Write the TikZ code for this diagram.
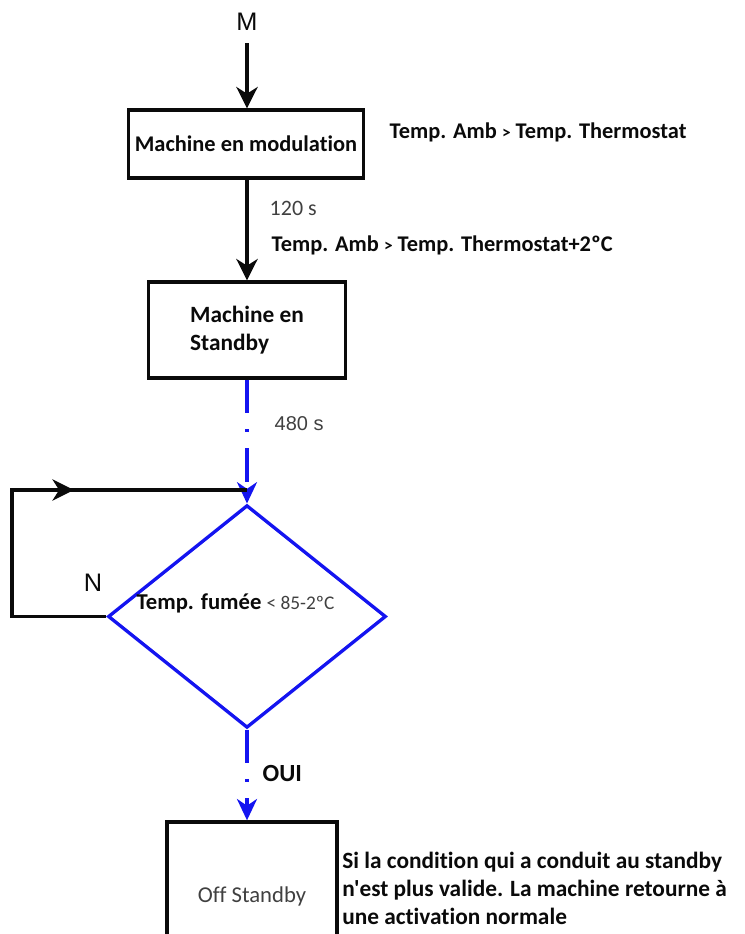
\documentclass[tikz,border=0pt]{standalone}
\usepackage{fontspec}
\setmainfont[Ligatures={NoCommon,TeXOff}]{Carlito}
\newfontfamily\arialfont{Liberation Sans}
\usetikzlibrary{positioning,shapes.geometric,arrows.meta,decorations.markings}
\definecolor{flowblue}{HTML}{1414F0}
\definecolor{greytext}{HTML}{404040}
\definecolor{ink}{HTML}{0A0A0A}

\begin{document}
\begin{tikzpicture}[x=0.75pt, y=-0.75pt,
    every node/.style={font=\fontsize{16.8}{21}\selectfont\bfseries, text=ink},
    statebox/.style={draw=ink, line width=2.5pt},
    flow/.style={draw=ink, line width=2.5pt, -{Stealth[length=16pt, width=16pt, inset=5pt]}},
    blueflow/.style={draw=flowblue, line width=2.5pt, dash pattern=on 25pt off 12pt on 2.5pt off 12pt, -{Stealth[length=16pt, width=15pt, inset=5pt]}}]
      \useasboundingbox (0,0) rectangle (744,934);
      % states and test
      \node[font=\arialfont\fontsize{19}{22}\selectfont] (start) at (247,22) {M};
      \node[statebox, minimum width=176pt, minimum height=51pt] (modul) at (246,144) {Machine en modulation};
      \node[statebox, minimum width=148pt, minimum height=72pt, align=left, font=\fontsize{17.5}{21.5}\selectfont\bfseries] (standby) at (247,330) {Machine en\\Standby};
      \node[draw=flowblue, line width=2.5pt, diamond, minimum width=208.5pt, minimum height=167pt, inner sep=0pt] (dec) at (247,616.5) {};
      \node[statebox, minimum width=127.5pt, minimum height=111pt, font=\fontsize{17}{19}\selectfont, text=greytext] (off) at (252,896) {Off Standby};
      % conditions
      \node[anchor=west] (cond1) at (385,132) {Temp. Amb {\fontsize{13}{13}\selectfont >} Temp. Thermostat};
      \node[anchor=west, font=\fontsize{16.5}{18}\selectfont, text=greytext] (wait1) at (265,208) {120 s};
      \node[anchor=west] (cond2) at (267,245) {Temp. Amb {\fontsize{13}{13}\selectfont >} Temp. Thermostat+2ºC};
      \node[anchor=west, font=\arialfont\fontsize{15}{17}\selectfont, text=greytext] (wait2) at (270,424) {480 s};
      \node[font=\arialfont\fontsize{19}{22}\selectfont] (no) at (93,583) {N};
      \node[anchor=west, font=\fontsize{17}{21}\selectfont\bfseries] (cond3) at (132,603) {Temp. fumée {\mdseries\fontsize{14.5}{16}\selectfont\color{greytext}< 85-2ºC}};
      \node[anchor=west, font=\fontsize{18.5}{21}\selectfont\bfseries] (yes) at (258,773) {OUI};
      \node[anchor=north west, align=left, inner sep=0pt, font=\fontsize{17.5}{21}\selectfont\bfseries] (note) at (342,852) {Si la condition qui a conduit au standby\\n'est plus valide. La machine retourne à\\une activation normale};
      % connectors
      \draw[flow, shorten <=6pt] (start) -- (modul.north -| start);
      \draw[flow] (modul.south -| start) -- (standby);
      \draw[blueflow] (standby) -- (dec);
      \draw[blueflow] (dec) -- (dec.south |- off.north);
      \coordinate (looptop) at (12,490);
      \coordinate (joint) at (dec.north |- looptop);
      \draw[draw=ink, line width=2.5pt, postaction={decorate},
        decoration={markings, mark=at position 0.62 with {\arrow{Stealth[length=16pt, width=16pt, inset=5pt]}}}]
        (dec.west) -| (looptop) -- (joint);
    \end{tikzpicture}
\end{document}
